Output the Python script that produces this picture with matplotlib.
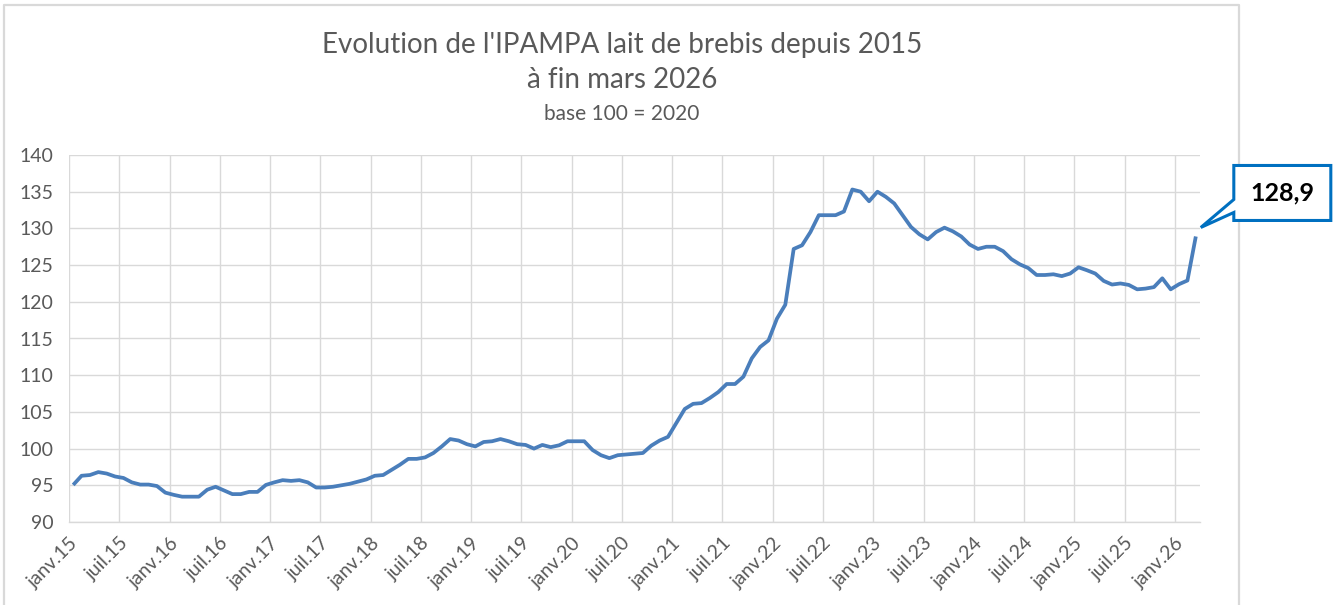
import numpy as np
import matplotlib.pyplot as plt
from matplotlib.patches import Polygon
from matplotlib.lines import Line2D

# IPAMPA lait de brebis, mensuel, janv. 2015 -> mars 2026 (base 100 = 2020)
annees = list(range(2015, 2027))
valeurs = [
    95.05, 96.3, 96.4, 96.8, 96.6, 96.2, 96.0, 95.4, 95.1, 95.1, 94.9, 94.0,        # 2015
    93.7, 93.45, 93.45, 93.45, 94.4, 94.8, 94.3, 93.8, 93.8, 94.1, 94.1, 95.05,     # 2016
    95.4, 95.7, 95.6, 95.7, 95.4, 94.7, 94.7, 94.8, 95.0, 95.2, 95.5, 95.8,         # 2017
    96.3, 96.4, 97.1, 97.8, 98.6, 98.6, 98.8, 99.4, 100.3, 101.3, 101.1, 100.6,     # 2018
    100.3, 100.9, 101.0, 101.3, 101.0, 100.6, 100.5, 100.0, 100.5, 100.2, 100.45, 101.0,  # 2019
    101.0, 101.0, 99.8, 99.1, 98.7, 99.1, 99.2, 99.3, 99.4, 100.4, 101.1, 101.6,    # 2020
    103.5, 105.4, 106.1, 106.2, 106.9, 107.7, 108.8, 108.8, 109.8, 112.3, 113.85, 114.75,  # 2021
    117.7, 119.6, 127.2, 127.7, 129.5, 131.8, 131.8, 131.8, 132.3, 135.3, 135.0, 133.7,    # 2022
    135.0, 134.3, 133.4, 131.8, 130.2, 129.2, 128.5, 129.5, 130.1, 129.6, 128.9, 127.8,    # 2023
    127.2, 127.5, 127.5, 126.9, 125.8, 125.1, 124.6, 123.65, 123.65, 123.75, 123.5, 123.85,  # 2024
    124.7, 124.3, 123.85, 122.85, 122.35, 122.5, 122.3, 121.7, 121.8, 122.0, 123.2, 121.7,  # 2025
    122.4, 122.9, 128.9,                                                            # 2026
]
etiquettes = []
for a in annees:
    etiquettes.append("janv.%02d" % (a % 100))
    if a < 2026:
        etiquettes.append("juil.%02d" % (a % 100))
derniere = "128,9"

bleu = "#4a7ebb"
gris_txt = "#595959"
gris_grille = "#d9d9d9"

plt.rcParams['font.family'] = ['Lato', 'DejaVu Sans']

fig = plt.figure(figsize=(13.38, 6.05), dpi=100)
ax = fig.add_axes([69 / 1338, 1 - 522 / 605, 1131 / 1338, 367 / 605])

x = np.arange(len(valeurs))
ax.plot(x, valeurs, color=bleu, lw=2.7, solid_joinstyle='round', solid_capstyle='butt', zorder=3)

ax.set_xlim(-0.5, len(valeurs) - 0.5)
ax.set_ylim(90, 140)
ax.set_yticks(np.arange(90, 141, 5))
pos = np.arange(len(etiquettes)) * 6 - 0.5
ax.set_xticks(pos)
ax.set_xticklabels(etiquettes, rotation=45, ha='right', va='top', rotation_mode='anchor')
ax.tick_params(axis='both', length=0, labelsize=14, labelcolor=gris_txt)
ax.tick_params(axis='y', pad=11)
ax.tick_params(axis='x', pad=9)
ax.grid(True, color=gris_grille, lw=1.0)
ax.set_axisbelow(True)
for s in ['top', 'right', 'left']:
    ax.spines[s].set_visible(False)
ax.spines['bottom'].set_color(gris_grille)
ax.spines['bottom'].set_linewidth(1.0)

# titre
cx = 622 / 1338
fig.text(cx, 1 - 53 / 605, "Evolution de l'IPAMPA lait de brebis depuis 2015", ha='center', va='baseline',
         fontsize=20, color=gris_txt)
fig.text(cx, 1 - 88 / 605, "à fin mars 2026", ha='center', va='baseline', fontsize=20, color=gris_txt)
fig.text(cx, 1 - 120 / 605, "base 100 = 2020", ha='center', va='baseline', fontsize=15, color=gris_txt)

# cadre du graphique
fig.add_artist(Line2D([4 / 1338, 4 / 1338, 1239 / 1338, 1239 / 1338], [0, 1 - 5 / 605, 1 - 5 / 605, 0],
                      transform=fig.transFigure, color=gris_grille, lw=1.6))

# bulle pour la derniere valeur
fig.canvas.draw()
px, py = ax.transData.transform((x[-1], valeurs[-1]))
tx, ty = px + 5, py + 9
L, R, T, B = px + 38, px + 135, py + 71, py + 16
pts = [(L, T), (R, T), (R, B), (L, B), (L, B + 8), (tx, ty), (L, B + 21)]
fig.add_artist(Polygon(pts, closed=True, transform=None, facecolor='white', edgecolor='#0070c0', lw=2.2,
                       joinstyle='miter', zorder=5))
fig.text((L + R) / 2 / 1338, (T + B) / 2 / 605, derniere, ha='center', va='center', fontsize=18,
         fontweight='bold', color='black', zorder=6)

fig.savefig("out.png", dpi=100)
